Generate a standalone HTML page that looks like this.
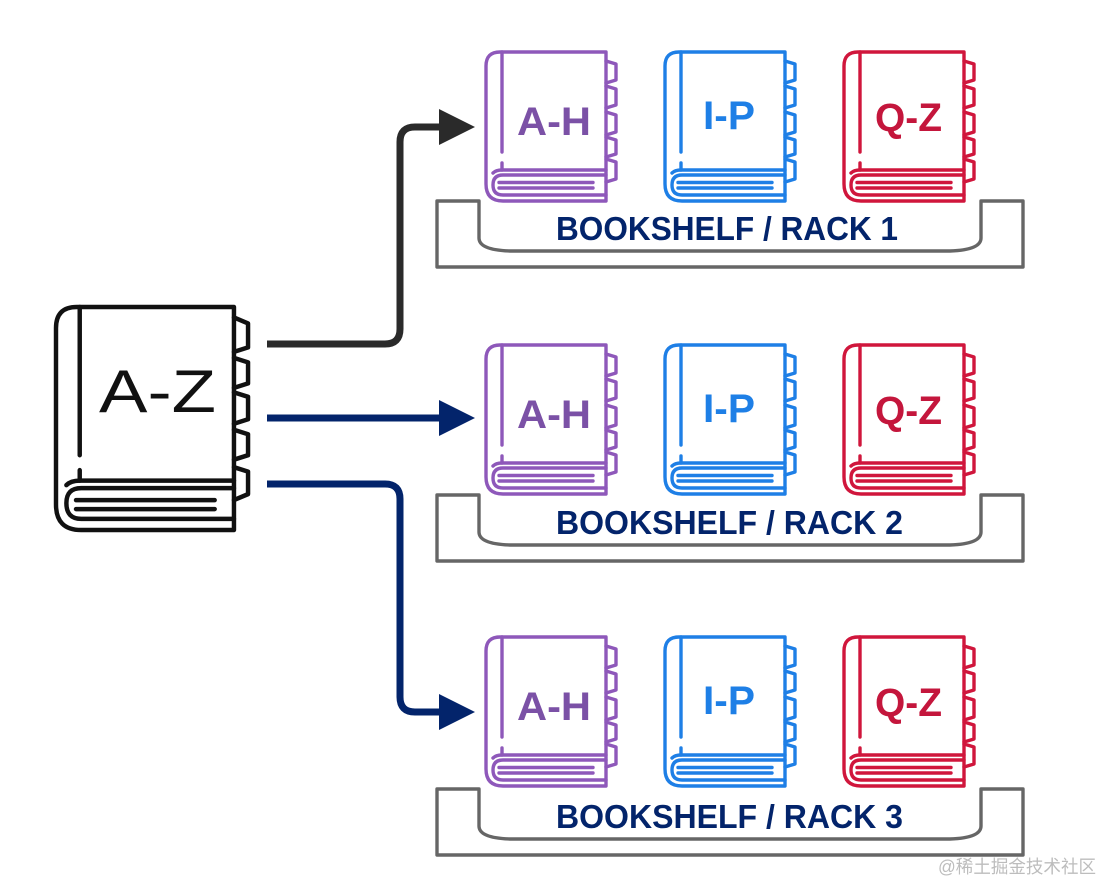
<!DOCTYPE html>
<html><head><meta charset="utf-8"><style>
html,body{margin:0;padding:0;background:#fff;width:1104px;height:884px;overflow:hidden}
svg{display:block}
text{font-family:"Liberation Sans","Noto Sans CJK SC",sans-serif}
.lbl{font-weight:bold;font-size:40px}
.rack{font-weight:bold;font-size:33px;fill:#03246b}
</style></head><body>
<svg width="1104" height="884" viewBox="0 0 1104 884" xmlns="http://www.w3.org/2000/svg">
<defs>
<g id="book" fill="none" stroke-linejoin="round" stroke-linecap="round">
<path d="M120,0 H14 Q0,0 0,14 V132 Q0,149 17,149 H120 Z"/>
<path d="M16,0 V100 M16,111 V118"/>
<path d="M7,121 Q10,118 16,118 H120"/>
<path d="M120,123 H17 Q7,123 7,133 Q7,143 17,143 H120"/>
<path d="M13,130.5 H107 M13,136 H107"/>
<path d="M120,9 L130,12 V28 L120,31 M120,34 L130,37 V53 L120,56 M120,60 L130,63 V80 L120,83 M120,85 L130,88 V102 L120,105 M120,107 L130,110 V127 L120,130"/>
</g>
<g id="bigbook" fill="none" stroke-linejoin="round" stroke-linecap="round">
<path d="M120,0 H14 Q0,0 0,14 V132 Q0,149 17,149 H120 Z"/>
<path d="M16,0 V99 M16,109 V116"/>
<path d="M7,119 Q10,116 16,116 H120"/>
<path d="M120,121 H17 Q7,121 7,131 Q7,141.5 17,141.5 H120"/>
<path d="M13.5,129 H107 M13.5,135 H107"/>
<path d="M120,7 L129.5,11 V27 L120,30 M120,34 L129.5,37 V51 L120,54 M120,57 L129.5,60 V75 L120,78 M120,82 L129.5,85 V99 L120,102 M120,107 L129.5,110 V125 L120,129"/>
</g>
<path id="shelf" fill="none" stroke="#666" stroke-width="3.4" stroke-linejoin="round" d="M437,201 H479 V238 Q479,250 510,251 H950 Q981,250 981,238 V201 H1023 V267 H437 Z"/>
</defs>

<!-- big book -->
<use href="#bigbook" transform="translate(56,307) scale(1.483,1.497)" stroke="#111" stroke-width="3"/>
<text x="99" y="412" font-size="60" fill="#111" textLength="117" lengthAdjust="spacingAndGlyphs">A-Z</text>

<!-- arrows -->
<path d="M267,344 H385 Q400,344 400,329 V142 Q400,127 415,127 H445" fill="none" stroke="#2a2a2a" stroke-width="7"/>
<polygon points="439,109 475,127 439,145" fill="#2a2a2a"/>
<path d="M267,418 H445" fill="none" stroke="#03246b" stroke-width="7"/>
<polygon points="439,400 475,418 439,436" fill="#03246b"/>
<path d="M267,484 H385 Q400,484 400,499 V697 Q400,712 415,712 H445" fill="none" stroke="#03246b" stroke-width="7"/>
<polygon points="439,694 475,712 439,730" fill="#03246b"/>

<!-- row 1 -->
<use href="#book" x="486" y="52" stroke="#8e58ba" stroke-width="3.4"/>
<use href="#book" x="665" y="52" stroke="#1e7fe6" stroke-width="3.4"/>
<use href="#book" x="844" y="52" stroke="#d0163c" stroke-width="3.4"/>
<text class="lbl" x="517" y="135" fill="#7b51a6" textLength="74" lengthAdjust="spacingAndGlyphs">A-H</text>
<text class="lbl" x="703" y="129" fill="#1e7fe6" textLength="52" lengthAdjust="spacingAndGlyphs">I-P</text>
<text class="lbl" x="875" y="131" fill="#c4163c" textLength="67" lengthAdjust="spacingAndGlyphs">Q-Z</text>
<use href="#shelf"/>
<text class="rack" x="556" y="240" textLength="342" lengthAdjust="spacingAndGlyphs">BOOKSHELF / RACK 1</text>

<!-- row 2 -->
<use href="#book" x="486" y="345" stroke="#8e58ba" stroke-width="3.4"/>
<use href="#book" x="665" y="345" stroke="#1e7fe6" stroke-width="3.4"/>
<use href="#book" x="844" y="345" stroke="#d0163c" stroke-width="3.4"/>
<text class="lbl" x="517" y="428" fill="#7b51a6" textLength="74" lengthAdjust="spacingAndGlyphs">A-H</text>
<text class="lbl" x="703" y="422" fill="#1e7fe6" textLength="52" lengthAdjust="spacingAndGlyphs">I-P</text>
<text class="lbl" x="875" y="424" fill="#c4163c" textLength="67" lengthAdjust="spacingAndGlyphs">Q-Z</text>
<use href="#shelf" y="294"/>
<text class="rack" x="556" y="534" textLength="347" lengthAdjust="spacingAndGlyphs">BOOKSHELF / RACK 2</text>

<!-- row 3 -->
<use href="#book" x="486" y="637" stroke="#8e58ba" stroke-width="3.4"/>
<use href="#book" x="665" y="637" stroke="#1e7fe6" stroke-width="3.4"/>
<use href="#book" x="844" y="637" stroke="#d0163c" stroke-width="3.4"/>
<text class="lbl" x="517" y="720" fill="#7b51a6" textLength="74" lengthAdjust="spacingAndGlyphs">A-H</text>
<text class="lbl" x="703" y="714" fill="#1e7fe6" textLength="52" lengthAdjust="spacingAndGlyphs">I-P</text>
<text class="lbl" x="875" y="716" fill="#c4163c" textLength="67" lengthAdjust="spacingAndGlyphs">Q-Z</text>
<use href="#shelf" y="588"/>
<text class="rack" x="556" y="828" textLength="347" lengthAdjust="spacingAndGlyphs">BOOKSHELF / RACK 3</text>

<!-- watermark -->
<text x="938" y="873" font-size="18" fill="#bdbdbd" textLength="158" lengthAdjust="spacingAndGlyphs">@稀土掘金技术社区</text>
</svg>
</body></html>
